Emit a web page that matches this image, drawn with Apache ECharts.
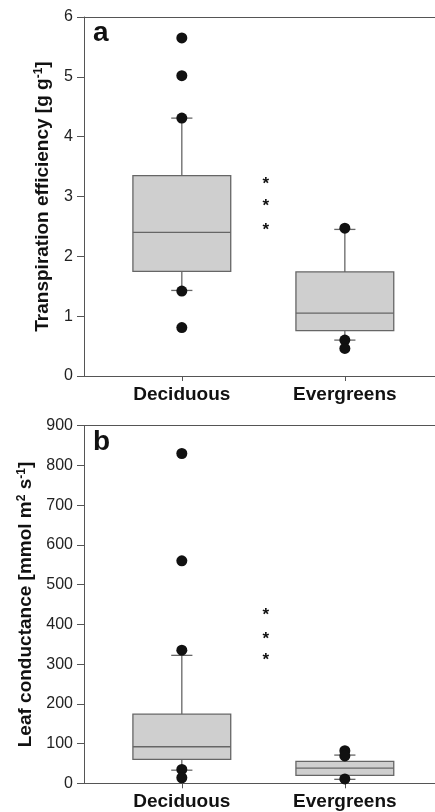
<!DOCTYPE html>
<html>
<head>
<meta charset="utf-8">
<script src="https://cdn.jsdelivr.net/npm/echarts@6/dist/echarts.min.js"></script>
<style>
html,body{margin:0;padding:0;background:#fff;}
#chart{width:435px;height:812px;}
</style>
</head>
<body>
<div id="chart"></div>
<script>
// ---- data ----
const categories = ['Deciduous', 'Evergreens'];
const catPos = [1, 2];
// panel a: transpiration efficiency [low whisker, Q1, median, Q3, high whisker]
const teBoxes = [
  [1.43, 1.75, 2.40, 3.35, 4.31],
  [0.60, 0.76, 1.05, 1.74, 2.45]
];
const teOutliersDec = [5.65, 5.02, 4.31, 1.42, 0.81];
const teOutliersEver = [2.47, 0.60, 0.46];
const teStars = [3.25, 2.88, 2.49];
const teTicks = [0, 1, 2, 3, 4, 5, 6];
// panel b: leaf conductance
const lcBoxes = [
  [33, 60, 92, 174, 322],
  [10, 20, 38, 55, 71]
];
const lcOutliersDec = [830, 560, 335, 35, 14];
const lcOutliersEver = [82, 69, 11];
const lcStars = [430, 371, 316];
const lcTicks = [0, 100, 200, 300, 400, 500, 600, 700, 800, 900];
const starX = 1.515;

// ---- build ----
const boxHalf = 0.30;
const capHalf = 0.065;
const axisColor = '#555';
const textColor = '#222';
const font = 'Liberation Sans, Arial, sans-serif';

function boxData(boxes) {
  return boxes.map((b, i) => [catPos[i]].concat(b));
}
function outlierData(dec, ever) {
  return dec.map(v => [catPos[0], v]).concat(ever.map(v => [catPos[1], v]));
}
function renderBox(params, api) {
  const x = api.value(0);
  const lo = api.value(1), q1 = api.value(2), med = api.value(3), q3 = api.value(4), hi = api.value(5);
  const pL = api.coord([x - boxHalf, q3]);
  const pR = api.coord([x + boxHalf, q1]);
  const pMedL = api.coord([x - boxHalf, med]);
  const pMedR = api.coord([x + boxHalf, med]);
  const pHi = api.coord([x, hi]);
  const pLo = api.coord([x, lo]);
  const pQ3 = api.coord([x, q3]);
  const pQ1 = api.coord([x, q1]);
  const cHiL = api.coord([x - capHalf, hi]), cHiR = api.coord([x + capHalf, hi]);
  const cLoL = api.coord([x - capHalf, lo]), cLoR = api.coord([x + capHalf, lo]);
  const ls = {stroke: '#666', lineWidth: 1.3};
  return {
    type: 'group',
    children: [
      {type: 'line', shape: {x1: pHi[0], y1: pHi[1], x2: pQ3[0], y2: pQ3[1]}, style: ls},
      {type: 'line', shape: {x1: pLo[0], y1: pLo[1], x2: pQ1[0], y2: pQ1[1]}, style: ls},
      {type: 'line', shape: {x1: cHiL[0], y1: cHiL[1], x2: cHiR[0], y2: cHiR[1]}, style: ls},
      {type: 'line', shape: {x1: cLoL[0], y1: cLoL[1], x2: cLoR[0], y2: cLoR[1]}, style: ls},
      {type: 'rect', shape: {x: pL[0], y: pL[1], width: pR[0] - pL[0], height: pR[1] - pL[1]},
        style: {fill: '#cfcfcf', stroke: '#666', lineWidth: 1.3}},
      {type: 'line', shape: {x1: pMedL[0], y1: pMedL[1], x2: pMedR[0], y2: pMedR[1]}, style: ls}
    ]
  };
}
function renderStar(params, api) {
  const p = api.coord([api.value(0), api.value(1)]);
  return {type: 'text', x: p[0], y: p[1] + 3,
    style: {text: '*', fill: '#111', font: 'bold 17px ' + font, align: 'center', verticalAlign: 'middle'}};
}

function xAxes(gi) {
  return [
    {
      type: 'value', gridIndex: gi, min: 0.4, max: 2.553, position: 'bottom',
      axisLine: {show: true, onZero: false, lineStyle: {color: axisColor, width: 1}},
      axisTick: {show: true, customValues: catPos, length: 5, lineStyle: {color: axisColor}},
      axisLabel: {show: true, customValues: catPos, margin: 9, color: '#111',
        fontSize: 19, fontWeight: 'bold', fontFamily: font,
        formatter: v => categories[catPos.indexOf(Math.round(v))] || ''},
      splitLine: {show: false}
    },
    {
      type: 'value', gridIndex: gi, min: 0.4, max: 2.553, position: 'top',
      axisLine: {show: true, onZero: false, lineStyle: {color: axisColor, width: 1}},
      axisTick: {show: false}, axisLabel: {show: false}, splitLine: {show: false}
    }
  ];
}
function yAxis(gi, ticks, name, gap) {
  return {
    type: 'value', gridIndex: gi, min: ticks[0], max: ticks[ticks.length - 1], interval: ticks[1] - ticks[0],
    axisLine: {show: true, lineStyle: {color: axisColor, width: 1}},
    axisTick: {show: true, length: 7, lineStyle: {color: axisColor}},
    axisLabel: {color: textColor, fontSize: 16, fontFamily: font, margin: 11},
    splitLine: {show: false},
    name: name, nameLocation: 'middle', nameRotate: 90, nameGap: gap,
    nameTextStyle: {
      color: '#111', fontSize: 19, fontWeight: 'bold', fontFamily: font,
      rich: {
        t: {fontSize: 19, fontWeight: 'bold', fontFamily: font, color: '#111'},
        sup: {fontSize: 12, fontWeight: 'bold', fontFamily: font, color: '#111', verticalAlign: 'top', padding: [0, 0, 8, 0]}
      }
    }
  };
}

const chart = echarts.init(document.getElementById('chart'));
chart.setOption({
  animation: false,
  backgroundColor: '#fff',
  grid: [
    {left: 84, right: 0, top: 17, height: 359},
    {left: 84, right: 0, top: 425.7, height: 357.6}
  ],
  xAxis: xAxes(0).concat(xAxes(1)),
  yAxis: [
    yAxis(0, teTicks, '{t|Transpiration efficiency [g g}{sup|-1}{t|]}', 31),
    yAxis(1, lcTicks, '{t|Leaf conductance [mmol m}{sup|2}{t| s}{sup|-1}{t|]}', 48)
  ],
  graphic: [
    {type: 'text', left: 93, top: 19, style: {text: 'a', font: 'bold 28px ' + font, fill: '#111'}},
    {type: 'text', left: 93, top: 428, style: {text: 'b', font: 'bold 28px ' + font, fill: '#111'}}
  ],
  series: [
    {type: 'custom', xAxisIndex: 0, yAxisIndex: 0, renderItem: renderBox, data: boxData(teBoxes), z: 2},
    {type: 'scatter', xAxisIndex: 0, yAxisIndex: 0, data: outlierData(teOutliersDec, teOutliersEver),
      symbolSize: 11, itemStyle: {color: '#111', opacity: 1}, z: 3},
    {type: 'custom', xAxisIndex: 0, yAxisIndex: 0, renderItem: renderStar, data: teStars.map(v => [starX, v]), z: 3},
    {type: 'custom', xAxisIndex: 2, yAxisIndex: 1, renderItem: renderBox, data: boxData(lcBoxes), z: 2},
    {type: 'scatter', xAxisIndex: 2, yAxisIndex: 1, data: outlierData(lcOutliersDec, lcOutliersEver),
      symbolSize: 11, itemStyle: {color: '#111', opacity: 1}, z: 3},
    {type: 'custom', xAxisIndex: 2, yAxisIndex: 1, renderItem: renderStar, data: lcStars.map(v => [starX, v]), z: 3}
  ]
});
</script>
</body>
</html>
